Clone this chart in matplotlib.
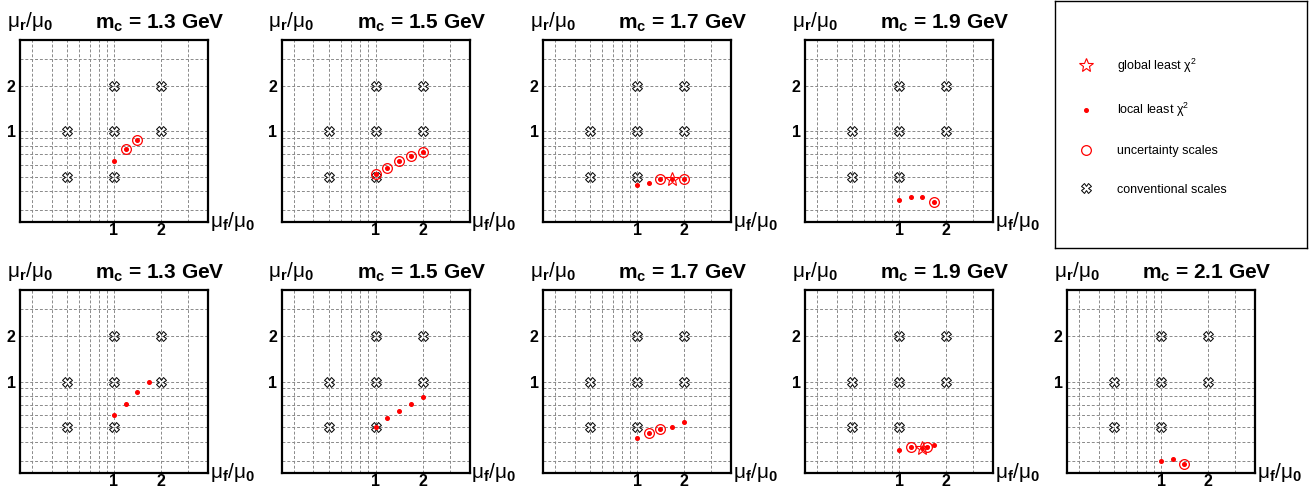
import numpy as np
import matplotlib.pyplot as plt
from matplotlib.lines import Line2D
from matplotlib.ticker import FixedLocator, NullLocator

plt.rcParams['font.family'] = ['Liberation Sans', 'DejaVu Sans']
plt.rcParams['mathtext.fontset'] = 'custom'
plt.rcParams['mathtext.rm'] = 'Liberation Sans'
plt.rcParams['mathtext.it'] = 'Liberation Sans'
plt.rcParams['mathtext.bf'] = 'Liberation Sans:bold'

# conventional scale choices (mu_f/mu_0, mu_r/mu_0)
conv_x = [0.5, 0.5, 1, 1, 1, 2, 2]
conv_y = [0.5, 1, 0.5, 1, 2, 1, 2]

# top row
mc_top = [1.3, 1.5, 1.7, 1.9]
top_x = [[1.0, 1.19, 1.41],
         [1.0, 1.19, 1.41, 1.68, 2.0],
         [1.0, 1.19, 1.41, 1.68, 2.0],
         [1.0, 1.19, 1.41, 1.68]]
top_y = [[0.634, 0.757, 0.868],
         [0.518, 0.573, 0.634, 0.684, 0.731],
         [0.436, 0.452, 0.483, 0.483, 0.483],
         [0.352, 0.364, 0.364, 0.341]]
top_unc = [[1, 2], [0, 1, 2, 3, 4], [2, 4], [3]]
top_glob = [[], [], [3], []]

# bottom row
mc_bot = [1.3, 1.5, 1.7, 1.9, 2.1]
bot_x = [[1.0, 1.19, 1.41, 1.68],
         [1.0, 1.19, 1.41, 1.68, 2.0],
         [1.0, 1.19, 1.41, 1.68, 2.0],
         [1.0, 1.19, 1.41, 1.51, 1.68],
         [1.0, 1.19, 1.41]]
bot_y = [[0.599, 0.711, 0.847, 1.0],
         [0.50, 0.578, 0.643, 0.711, 0.79],
         [0.426, 0.455, 0.488, 0.50, 0.542],
         [0.355, 0.369, 0.366, 0.373, 0.381],
         [0.298, 0.309, 0.288]]
bot_unc = [[], [], [1, 2], [1, 3], [2]]
bot_glob = [[], [], [], [2], []]

grid_vals = [0.3, 0.4, 0.5, 0.6, 0.7, 0.8, 0.9, 1, 2, 3]
grid_labels = ['1' if v == 1 else '2' if v == 2 else '' for v in grid_vals]

W, H = 1314, 488
fig = plt.figure(figsize=(W / 100, H / 100), dpi=100)

lefts = [20, 281.5, 543, 805, 1067]


def draw_panel(rect, mc, lx, ly, unc, glob):
    ax = fig.add_axes(rect)
    ax.set_xscale('log')
    ax.set_yscale('log')
    ax.set_xlim(0.25, 4)
    ax.set_ylim(0.25, 4)
    for axis in (ax.xaxis, ax.yaxis):
        axis.set_major_locator(FixedLocator(grid_vals))
        axis.set_minor_locator(NullLocator())
    ax.set_xticklabels(grid_labels, fontweight='bold')
    ax.set_yticklabels(grid_labels, fontweight='bold')
    ax.tick_params(length=0, labelsize=11.5)
    ax.tick_params(axis='x', pad=1)
    ax.tick_params(axis='y', pad=3)
    ax.set_axisbelow(True)
    ax.grid(True, color='#8a8a8a', linestyle=(0, (3, 2)), linewidth=0.7)
    for s in ax.spines.values():
        s.set_linewidth(1.6)

    ax.plot(conv_x, conv_y, linestyle='none', marker='X', mfc='none',
            mec='black', ms=6.5, mew=0.7)
    ax.plot(lx, ly, linestyle='none', marker='o', color='red', ms=2.6)
    ax.plot([lx[i] for i in unc], [ly[i] for i in unc], linestyle='none',
            marker='o', mfc='none', mec='red', ms=7, mew=0.9)
    ax.plot([lx[i] for i in glob], [ly[i] for i in glob], linestyle='none',
            marker='*', mfc='none', mec='red', ms=10, mew=0.8)

    ax.text(0.745, 1.06, r'$\mathbf{m_{c}}$ = %.1f GeV' % mc, transform=ax.transAxes,
            fontsize=15, fontweight='bold', ha='center', va='baseline')
    ax.text(-0.07, 1.07, r'μ$_{\mathbf{r}}$/μ$_{\mathbf{0}}$', transform=ax.transAxes,
            fontsize=15, ha='left', va='baseline')
    ax.text(1.01, -0.03, r'μ$_{\mathbf{f}}$/μ$_{\mathbf{0}}$', transform=ax.transAxes,
            fontsize=15, ha='left', va='baseline')
    return ax


for i, mc in enumerate(mc_top):
    rect = [lefts[i] / W, 1 - 222 / H, 188 / W, 182 / H]
    draw_panel(rect, mc, top_x[i], top_y[i], top_unc[i], top_glob[i])

for i, mc in enumerate(mc_bot):
    rect = [lefts[i] / W, 1 - 473 / H, 188 / W, 183 / H]
    draw_panel(rect, mc, bot_x[i], bot_y[i], bot_unc[i], bot_glob[i])

# legend box
lax = fig.add_axes([1055 / W, 1 - 248 / H, 252 / W, 247 / H])
lax.set_xticks([])
lax.set_yticks([])
for s in lax.spines.values():
    s.set_linewidth(1.0)

handles = [
    Line2D([], [], linestyle='none', marker='*', mfc='none', mec='red', ms=10, mew=0.8),
    Line2D([], [], linestyle='none', marker='o', color='red', ms=2.6),
    Line2D([], [], linestyle='none', marker='o', mfc='none', mec='red', ms=7, mew=0.9),
    Line2D([], [], linestyle='none', marker='X', mfc='none', mec='black', ms=6.5, mew=0.7),
]
labels = ['global least χ$^{2}$', 'local least χ$^{2}$',
          'uncertainty scales', 'conventional scales']
lax.legend(handles, labels, loc='upper left', bbox_to_anchor=(0.098, 0.775),
           frameon=False, fontsize=9, labelspacing=2.1, handlelength=1.0,
           handletextpad=1.98, borderpad=0, borderaxespad=0)

fig.savefig('out.png', dpi=100)
